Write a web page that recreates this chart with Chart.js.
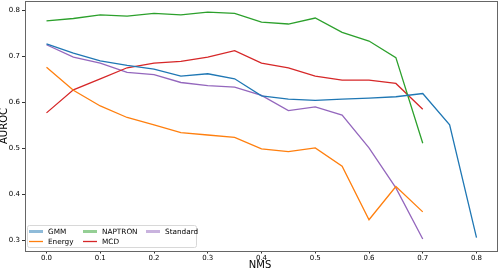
<!DOCTYPE html>
<html>
<head>
<meta charset="utf-8">
<script src="https://cdn.jsdelivr.net/npm/chart.js@4"></script>
<style>
  html, body { margin: 0; padding: 0; background: #fff; }
  #wrap { width: 500px; height: 270px; position: relative; }
</style>
</head>
<body>
<div id="wrap"><canvas id="chart" width="500" height="270"></canvas></div>
<script>
/* ---- data ---- */
const nmsGmm  = [0, 0.05, 0.1, 0.15, 0.2, 0.25, 0.3, 0.35, 0.4, 0.45, 0.5, 0.55, 0.6, 0.65, 0.7, 0.75, 0.8];
const nms     = [0, 0.05, 0.1, 0.15, 0.2, 0.25, 0.3, 0.35, 0.4, 0.45, 0.5, 0.55, 0.6, 0.65, 0.7];
const gmm      = [0.727, 0.707, 0.690, 0.680, 0.672, 0.657, 0.662, 0.651, 0.614, 0.607, 0.604, 0.607, 0.609, 0.612, 0.619, 0.551, 0.306];
const energy   = [0.676, 0.626, 0.592, 0.567, 0.551, 0.534, 0.529, 0.524, 0.499, 0.493, 0.501, 0.461, 0.345, 0.417, 0.362];
const naptron  = [0.777, 0.782, 0.790, 0.787, 0.793, 0.790, 0.796, 0.793, 0.774, 0.770, 0.783, 0.752, 0.733, 0.697, 0.511];
const mcd      = [0.577, 0.627, 0.651, 0.675, 0.685, 0.689, 0.698, 0.712, 0.685, 0.675, 0.657, 0.648, 0.648, 0.641, 0.585];
const standard = [0.725, 0.698, 0.685, 0.665, 0.660, 0.643, 0.636, 0.633, 0.615, 0.582, 0.590, 0.572, 0.501, 0.414, 0.303];
const xTicks = [0, 0.1, 0.2, 0.3, 0.4, 0.5, 0.6, 0.7, 0.8];
const yTicks = [0.3, 0.4, 0.5, 0.6, 0.7, 0.8];

const FONT = "'DejaVu Sans', sans-serif";

function pts(xs, ys) {
  return ys.map((y, i) => ({ x: xs[i], y: y }));
}

function series(label, xs, ys, color) {
  return {
    label: label,
    data: pts(xs, ys),
    borderColor: color,
    backgroundColor: color,
    borderWidth: 1.3,
    pointRadius: 0,
    showLine: true,
    tension: 0
  };
}

// legend entries, matplotlib style (column-major, 3 columns)
const legendItems = [
  { label: "GMM",      color: "rgba(31,119,180,0.5)",  width: 3,   col: 0, row: 0 },
  { label: "Energy",   color: "#ff7f0e",               width: 1.3, col: 0, row: 1 },
  { label: "NAPTRON",  color: "rgba(44,160,44,0.5)",   width: 3,   col: 1, row: 0 },
  { label: "MCD",      color: "#d62728",               width: 1.3, col: 1, row: 1 },
  { label: "Standard", color: "rgba(148,103,189,0.5)", width: 3,   col: 2, row: 0 }
];

const framePlugin = {
  id: "frame",
  afterDatasetsDraw(chart) {
    const { ctx, chartArea: a } = chart;
    ctx.save();
    ctx.strokeStyle = "#666";
    ctx.lineWidth = 1;
    ctx.strokeRect(a.left + 0.5, a.top + 0.5, a.right - a.left - 1, a.bottom - a.top);
    ctx.restore();
  },
  afterDraw(chart) {
    const { ctx, chartArea: a } = chart;
    ctx.save();
    // axis titles
    ctx.fillStyle = "#000";
    ctx.font = "10px " + FONT;
    ctx.textAlign = "center";
    ctx.textBaseline = "middle";
    ctx.fillText("NMS", (a.left + a.right) / 2 - 1.5, 265.5);
    ctx.translate(4.5, (a.top + a.bottom) / 2);
    ctx.rotate(-Math.PI / 2);
    ctx.fillText("AUROC", 0, 0);
    ctx.restore();

    // legend box
    ctx.save();
    const bx = 27.5, by = 225.5, bw = 169, bh = 22;
    ctx.fillStyle = "rgba(255,255,255,0.85)";
    ctx.strokeStyle = "#d8d8d8";
    ctx.lineWidth = 1;
    ctx.beginPath();
    ctx.roundRect(bx, by, bw, bh, 2);
    ctx.fill();
    ctx.stroke();
    const colX = [29, 83, 146];
    const rowY = [231.5, 241.5];
    ctx.font = "7.3px " + FONT;
    ctx.textAlign = "left";
    ctx.textBaseline = "middle";
    legendItems.forEach(it => {
      const x = colX[it.col], y = rowY[it.row];
      ctx.strokeStyle = it.color;
      ctx.lineWidth = it.width;
      ctx.beginPath();
      ctx.moveTo(x, y);
      ctx.lineTo(x + 14, y);
      ctx.stroke();
      ctx.fillStyle = "#000";
      ctx.fillText(it.label, x + 19, y + 0.5);
    });
    ctx.restore();
  }
};

const ctx = document.getElementById("chart").getContext("2d");
new Chart(ctx, {
  type: "scatter",
  data: {
    datasets: [
      series("GMM", nmsGmm, gmm, "#1f77b4"),
      series("Energy", nms, energy, "#ff7f0e"),
      series("NAPTRON", nms, naptron, "#2ca02c"),
      series("MCD", nms, mcd, "#d62728"),
      series("Standard", nms, standard, "#9467bd")
    ]
  },
  options: {
    responsive: false,
    animation: false,
    layout: { padding: { top: 1, right: 2, left: 0, bottom: 0 } },
    plugins: { legend: { display: false }, tooltip: { enabled: false } },
    scales: {
      x: {
        type: "linear",
        min: -0.04,
        max: 0.84,
        afterBuildTicks: s => { s.ticks = xTicks.map(v => ({ value: v })); },
        afterFit: s => { s.height = 19; s.paddingLeft = 0; s.paddingRight = 0; },
        grid: { display: true, drawOnChartArea: false, drawTicks: true, tickLength: 2.5, color: "#333" },
        border: { display: false },
        ticks: {
          color: "#000",
          padding: 0,
          maxRotation: 0,
          font: { family: FONT, size: 7 },
          callback: v => v.toFixed(1)
        }
      },
      y: {
        min: 0.277,
        max: 0.82,
        afterBuildTicks: s => { s.ticks = yTicks.map(v => ({ value: v })); },
        afterFit: s => { s.width = 25; s.paddingTop = 0; s.paddingBottom = 0; },
        grid: { display: true, drawOnChartArea: false, drawTicks: true, tickLength: 3, color: "#333" },
        border: { display: false },
        ticks: {
          color: "#000",
          padding: 2,
          font: { family: FONT, size: 7 },
          callback: v => v.toFixed(1)
        }
      }
    }
  },
  plugins: [framePlugin]
});
</script>
</body>
</html>
